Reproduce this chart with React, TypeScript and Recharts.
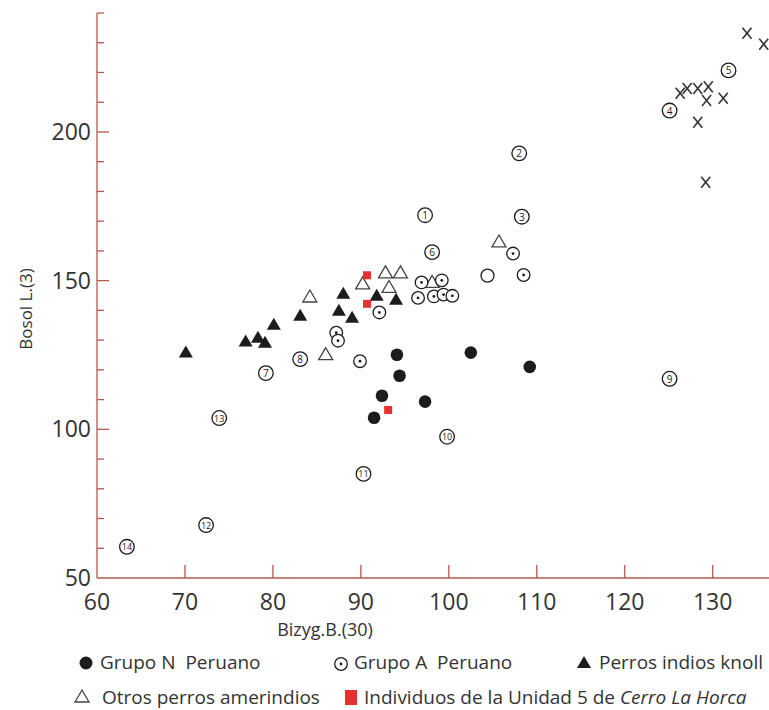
import { ScatterChart, Scatter, XAxis, YAxis, Label } from 'recharts';

const AXIS = '#b25a4c';
const INK = '#1c1c1c';
const TEXT = '#333333';
const RED = '#e8302e';
const FONT = '"Open Sans", "Noto Sans", sans-serif';

const xTicks = [60, 70, 80, 90, 100, 110, 120, 130];
const yTicks = [50, 60, 70, 80, 90, 100, 110, 120, 130, 140, 150, 160, 170, 180, 190, 200, 210, 220, 230, 240];

const grupoN = [
  { x: 94.1, y: 125.1 }, { x: 94.4, y: 118.0 }, { x: 92.4, y: 111.3 }, { x: 91.5, y: 103.9 },
  { x: 97.3, y: 109.3 }, { x: 102.5, y: 125.8 }, { x: 109.2, y: 121.0 },
];

const grupoA = [
  { x: 87.2, y: 132.5 }, { x: 87.4, y: 129.8 }, { x: 92.1, y: 139.3 }, { x: 89.9, y: 122.9 },
  { x: 96.9, y: 149.4 }, { x: 99.2, y: 150.1 }, { x: 96.5, y: 144.2 }, { x: 98.3, y: 144.7 },
  { x: 99.4, y: 145.3 }, { x: 100.4, y: 144.9 }, { x: 107.3, y: 159.1 }, { x: 108.5, y: 151.9 },
];

const circuloSimple = [{ x: 104.4, y: 151.7 }];

const knoll = [
  { x: 70.1, y: 125.8 }, { x: 76.9, y: 129.5 }, { x: 78.3, y: 130.8 }, { x: 79.1, y: 129.1 },
  { x: 80.1, y: 135.2 }, { x: 83.1, y: 138.2 }, { x: 87.5, y: 139.9 }, { x: 88.0, y: 145.6 },
  { x: 89.0, y: 137.5 }, { x: 91.8, y: 144.9 }, { x: 94.0, y: 143.6 },
];

const amerindios = [
  { x: 84.2, y: 144.5 }, { x: 90.2, y: 148.9 }, { x: 92.8, y: 152.6 }, { x: 94.5, y: 152.6 },
  { x: 93.2, y: 147.7 }, { x: 98.1, y: 149.4 }, { x: 105.7, y: 163.0 }, { x: 86.0, y: 125.1 },
];

const cerroLaHorca = [{ x: 90.7, y: 151.8 }, { x: 90.7, y: 142.2 }, { x: 93.1, y: 106.5 }];

const numerados = [
  { x: 97.3, y: 172.0, n: 1 }, { x: 108.0, y: 192.8, n: 2 }, { x: 108.3, y: 171.5, n: 3 },
  { x: 125.1, y: 207.2, n: 4 }, { x: 131.8, y: 220.7, n: 5 }, { x: 98.1, y: 159.6, n: 6 },
  { x: 79.2, y: 118.9, n: 7 }, { x: 83.1, y: 123.6, n: 8 }, { x: 125.1, y: 117.0, n: 9 },
  { x: 99.8, y: 97.5, n: 10 }, { x: 90.3, y: 85.0, n: 11 }, { x: 72.4, y: 67.8, n: 12 },
  { x: 73.9, y: 103.8, n: 13 }, { x: 63.4, y: 60.5, n: 14 },
];

const cruces = [
  { x: 133.9, y: 233.2 }, { x: 135.8, y: 229.5 }, { x: 126.3, y: 213.0 }, { x: 127.1, y: 214.6 },
  { x: 128.3, y: 214.6 }, { x: 129.5, y: 215.2 }, { x: 129.3, y: 210.6 }, { x: 131.2, y: 211.3 },
  { x: 128.3, y: 203.3 }, { x: 129.2, y: 183.1 },
];

const FilledCircle = ({ cx, cy }: any) => <circle cx={cx} cy={cy} r={6.3} fill={INK} />;
const DotCircle = ({ cx, cy }: any) => (
  <g>
    <circle cx={cx} cy={cy} r={6.3} fill="#fff" stroke={INK} strokeWidth={1.3} />
    <circle cx={cx} cy={cy} r={1.4} fill={INK} />
  </g>
);
const OpenCircle = ({ cx, cy }: any) => (
  <circle cx={cx} cy={cy} r={6.5} fill="#fff" stroke={INK} strokeWidth={1.3} />
);
const FilledTri = ({ cx, cy }: any) => (
  <polygon points={`${cx},${cy - 7} ${cx - 7},${cy + 5} ${cx + 7},${cy + 5}`} fill={INK} />
);
const OpenTri = ({ cx, cy }: any) => (
  <polygon points={`${cx},${cy - 7} ${cx - 7},${cy + 5} ${cx + 7},${cy + 5}`} fill="none" stroke="#444" strokeWidth={1.3} />
);
const RedSquare = ({ cx, cy }: any) => <rect x={cx - 4} y={cy - 4} width={8} height={8} fill={RED} />;
const Cross = ({ cx, cy }: any) => (
  <g stroke="#333" strokeWidth={1.6}>
    <line x1={cx - 4.5} y1={cy - 5.5} x2={cx + 4.5} y2={cy + 5.5} />
    <line x1={cx + 4.5} y1={cy - 5.5} x2={cx - 4.5} y2={cy + 5.5} />
  </g>
);
const Numbered = ({ cx, cy, payload }: any) => (
  <g>
    <circle cx={cx} cy={cy} r={7.3} fill="#fff" stroke={INK} strokeWidth={1.3} />
    <text x={cx} y={cy} textAnchor="middle" dominantBaseline="central" fontSize={payload.n > 9 ? 9 : 10} fontFamily={FONT} fill={INK}>
      {payload.n}
    </text>
  </g>
);

const XTick = ({ x, y, payload }: any) => (
  <g>
    {payload.value !== 60 && <line x1={x} y1={y} x2={x} y2={y - 13} stroke={AXIS} strokeWidth={1.3} />}
    <text x={x} y={y + 32} textAnchor="middle" fontSize={23} fontFamily={FONT} fill={TEXT}>
      {payload.value}
    </text>
  </g>
);

const YTick = ({ x, y, payload }: any) => {
  const major = payload.value % 50 === 0;
  return (
    <g>
      {payload.value !== 50 && (
        <line x1={x} y1={y} x2={x + (major ? 12 : 7)} y2={y} stroke={AXIS} strokeWidth={1.3} />
      )}
      {major && (
        <text x={x - 6} y={y + 8} textAnchor="end" fontSize={23} fontFamily={FONT} fill={TEXT}>
          {payload.value}
        </text>
      )}
    </g>
  );
};

const XTitle = ({ viewBox }: any) => (
  <text x={viewBox.x + 228} y={viewBox.y + 58} textAnchor="middle" fontSize={18} fontFamily={FONT} fill={TEXT}>
    Bizyg.B.(30)
  </text>
);

const YTitle = ({ viewBox }: any) => {
  const cx = 25;
  const cy = viewBox.y + 296;
  return (
    <text x={cx} y={cy} transform={`rotate(-90 ${cx} ${cy})`} textAnchor="middle" dominantBaseline="central" fontSize={17} fontFamily={FONT} fill={TEXT}>
      Bosol L.(3)
    </text>
  );
};

const legendText = { position: 'absolute' as const, fontSize: 19, color: TEXT, lineHeight: '20px', whiteSpace: 'nowrap' as const };

export default function App() {
  return (
    <div style={{ position: 'absolute', left: 0, top: 0, width: 769, height: 710, background: '#fff', fontFamily: FONT }}>
      <ScatterChart width={769} height={640} margin={{ top: 13, right: 0, bottom: 32, left: 37 }}>
        <XAxis
          type="number"
          dataKey="x"
          domain={[60, 136.4]}
          ticks={xTicks}
          interval={0}
          allowDataOverflow
          height={30}
          tickLine={false}
          tickSize={0}
          tickMargin={0}
          axisLine={{ stroke: AXIS, strokeWidth: 1.3 }}
          tick={<XTick />}
        >
          <Label content={<XTitle />} />
        </XAxis>
        <YAxis
          type="number"
          dataKey="y"
          domain={[50, 240]}
          ticks={yTicks}
          interval={0}
          allowDataOverflow
          width={60}
          tickLine={false}
          tickSize={0}
          tickMargin={0}
          axisLine={{ stroke: AXIS, strokeWidth: 1.3 }}
          tick={<YTick />}
        >
          <Label content={<YTitle />} />
        </YAxis>
        <Scatter data={numerados} shape={<Numbered />} isAnimationActive={false} />
        <Scatter data={cruces} shape={<Cross />} isAnimationActive={false} />
        <Scatter data={amerindios} shape={<OpenTri />} isAnimationActive={false} />
        <Scatter data={grupoA} shape={<DotCircle />} isAnimationActive={false} />
        <Scatter data={circuloSimple} shape={<OpenCircle />} isAnimationActive={false} />
        <Scatter data={knoll} shape={<FilledTri />} isAnimationActive={false} />
        <Scatter data={grupoN} shape={<FilledCircle />} isAnimationActive={false} />
        <Scatter data={cerroLaHorca} shape={<RedSquare />} isAnimationActive={false} />
      </ScatterChart>

      <svg style={{ position: 'absolute', left: 0, top: 640 }} width={769} height={70}>
        <circle cx={86} cy={23} r={6.5} fill={INK} />
        <circle cx={341} cy={24} r={6.3} fill="none" stroke={INK} strokeWidth={1.3} />
        <circle cx={341} cy={24} r={1.4} fill={INK} />
        <polygon points="584,16 577,28 591,28" fill={INK} />
        <polygon points="82,50 75,62 89,62" fill="none" stroke="#444" strokeWidth={1.3} />
        <rect x={345} y={50} width={12} height={15} fill={RED} />
      </svg>
      <span style={{ ...legendText, left: 100, top: 652 }}>Grupo N&nbsp; Peruano</span>
      <span style={{ ...legendText, left: 354, top: 652 }}>Grupo A&nbsp; Peruano</span>
      <span style={{ ...legendText, left: 599, top: 652 }}>Perros indios knoll</span>
      <span style={{ ...legendText, left: 102, top: 687 }}>Otros perros amerindios</span>
      <span style={{ ...legendText, left: 364, top: 687 }}>
        Individuos de la Unidad 5 de <i>Cerro La Horca</i>
      </span>
    </div>
  );
}
